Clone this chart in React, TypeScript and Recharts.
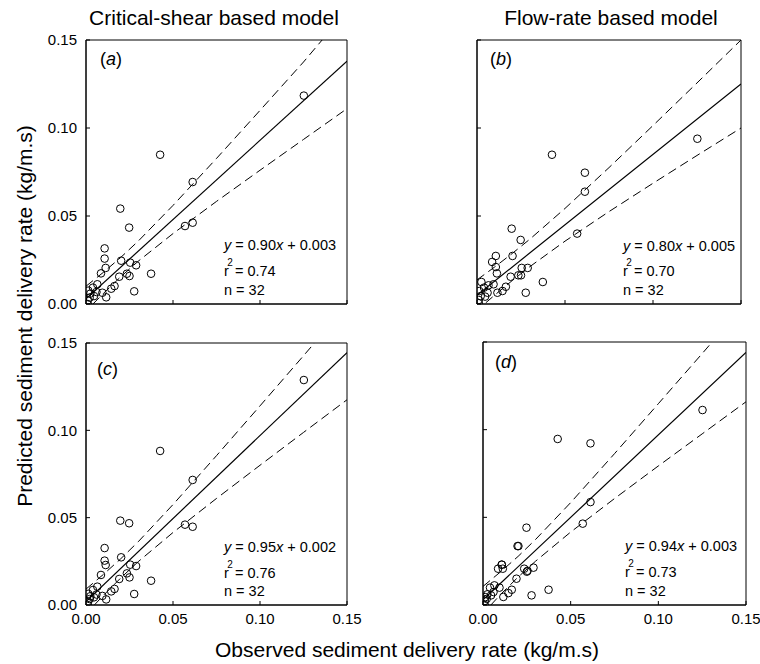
import React from 'react';
import { ScatterChart, Scatter, XAxis, YAxis, ReferenceArea } from 'recharts';

// Observed sediment delivery rate (kg/m.s), shared by all four panels
const observed = [
  0.0010, 0.0010, 0.0013, 0.0021, 0.0025, 0.0040, 0.0046, 0.0060,
  0.0065, 0.0086, 0.0094, 0.0107, 0.0107, 0.0113, 0.0116, 0.0145,
  0.0164, 0.0191, 0.0197, 0.0202, 0.0235, 0.0248, 0.0250, 0.0254,
  0.0277, 0.0288, 0.0374, 0.0426, 0.0569, 0.0613, 0.0613, 0.1252,
];
// Predicted rates, one list per panel
const predictedA = [
  0.0000, 0.0021, 0.0076, 0.0036, 0.0059, 0.0093, 0.0045, 0.0068,
  0.0112, 0.0174, 0.0064, 0.0316, 0.0258, 0.0205, 0.0038, 0.0087,
  0.0102, 0.0155, 0.0542, 0.0246, 0.0172, 0.0434, 0.0159, 0.0235,
  0.0072, 0.0220, 0.0172, 0.0848, 0.0443, 0.0462, 0.0693, 0.1184,
];
const predictedB = [
  0.0004, 0.0023, 0.0074, 0.0045, 0.0125, 0.0093, 0.0042, 0.0064,
  0.0106, 0.0239, 0.0112, 0.0273, 0.0210, 0.0174, 0.0064, 0.0074,
  0.0098, 0.0155, 0.0428, 0.0273, 0.0163, 0.0364, 0.0163, 0.0205,
  0.0064, 0.0205, 0.0125, 0.0848, 0.0400, 0.0638, 0.0746, 0.0939,
];
const predictedC = [
  0.0000, 0.0015, 0.0064, 0.0034, 0.0050, 0.0086, 0.0044, 0.0060,
  0.0105, 0.0172, 0.0052, 0.0326, 0.0254, 0.0229, 0.0032, 0.0078,
  0.0092, 0.0149, 0.0483, 0.0273, 0.0181, 0.0468, 0.0158, 0.0231,
  0.0063, 0.0223, 0.0139, 0.0882, 0.0460, 0.0448, 0.0716, 0.1288,
];
const predictedD = [
  0.0000, 0.0023, 0.0045, 0.0035, 0.0061, 0.0099, 0.0055, 0.0074,
  0.0112, 0.0207, 0.0099, 0.0230, 0.0230, 0.0207, 0.0046, 0.0068,
  0.0087, 0.0150, 0.0336, 0.0336, 0.0207, 0.0441, 0.0190, 0.0195,
  0.0055, 0.0213, 0.0087, 0.0947, 0.0464, 0.0587, 0.0922, 0.1112,
];

// Regression statistics printed in each panel
const slopes = [0.9, 0.8, 0.95, 0.94];
const intercepts = [0.003, 0.005, 0.002, 0.003];
const slopeLabels = ['0.90', '0.80', '0.95', '0.94'];
const interceptLabels = ['0.003', '0.005', '0.002', '0.003'];
const r2Labels = ['0.74', '0.70', '0.76', '0.73'];
const nLabels = ['32', '32', '32', '32'];
const panelLetters = ['a', 'b', 'c', 'd'];

// Dashed confidence curves as [observed, predicted]
const upperA = [[0, 0.0101], [0.01, 0.018], [0.02, 0.0265], [0.03, 0.0357], [0.05, 0.056], [0.075, 0.0827], [0.1, 0.11], [0.125, 0.1375], [0.1357, 0.15]];
const lowerA = [[0.004, 0.0], [0.01, 0.006], [0.02, 0.0155], [0.03, 0.0243], [0.05, 0.04], [0.075, 0.0583], [0.1, 0.076], [0.125, 0.0935], [0.15, 0.111]];
const upperB = [[0, 0.0137], [0.01, 0.021], [0.02, 0.0287], [0.03, 0.0368], [0.05, 0.0543], [0.075, 0.0775], [0.1, 0.1014], [0.125, 0.1256], [0.15, 0.15]];
const lowerB = [[0.005, 0.0007], [0.01, 0.005], [0.02, 0.0133], [0.03, 0.0212], [0.05, 0.0357], [0.075, 0.0525], [0.1, 0.0686], [0.125, 0.0844], [0.15, 0.1]];
const upperC = [[0, 0.0091], [0.01, 0.0175], [0.02, 0.0265], [0.03, 0.0362], [0.05, 0.0575], [0.075, 0.0855], [0.1, 0.114], [0.125, 0.1427], [0.1313, 0.15]];
const lowerC = [[0.0048, 0.0], [0.01, 0.0055], [0.02, 0.0155], [0.03, 0.0248], [0.05, 0.0415], [0.075, 0.061], [0.1, 0.08], [0.125, 0.0988], [0.15, 0.1175]];
const upperD = [[0, 0.0106], [0.01, 0.0189], [0.02, 0.0277], [0.03, 0.0374], [0.05, 0.0584], [0.075, 0.0863], [0.1, 0.1148], [0.125, 0.1434], [0.1307, 0.15]];
const lowerD = [[0.0045, 0.0], [0.01, 0.006], [0.02, 0.0159], [0.03, 0.025], [0.05, 0.0416], [0.075, 0.0607], [0.1, 0.0793], [0.125, 0.0976], [0.15, 0.1159]];

const axisTicks = [0, 0.05, 0.1, 0.15];
const axisDomain = [0, 0.15];

const titles = ['Critical-shear based model', 'Flow-rate based model'];
const xLabel = 'Observed sediment delivery rate (kg/m.s)';
const yLabel = 'Predicted sediment delivery rate (kg/m.s)';

const FONT = "'Liberation Sans', Arial, Helvetica, sans-serif";

// layout (plot area in page pixels)
const layout = [
  { left: 86, top: 40, w: 261, h: 264, showX: false, showY: true, letterDx: 14, letterBase: 24.5, eqDx: 138, eqBases: [54, 28.5, 9] },
  { left: 477, top: 40, w: 264, h: 264, showX: false, showY: false, letterDx: 13, letterBase: 24.5, eqDx: 146, eqBases: [53, 28.5, 9] },
  { left: 86, top: 343, w: 261, h: 262, showX: true, showY: true, letterDx: 11, letterBase: 32, eqDx: 138, eqBases: [53, 27.5, 9] },
  { left: 483, top: 342, w: 263, h: 263, showX: true, showY: false, letterDx: 12, letterBase: 26, eqDx: 142, eqBases: [54, 28.5, 9.5] },
];

const predictedSets = [predictedA, predictedB, predictedC, predictedD];
const upperSets = [upperA, upperB, upperC, upperD];
const lowerSets = [lowerA, lowerB, lowerC, lowerD];

const M_LEFT = 60;
const M_TOP = 10;
const M_RIGHT = 24;
const M_BOTTOM = 30;

const EmptyShape = () => <g />;
const CircleShape = (props: any) => (
  <circle cx={props.cx} cy={props.cy} r={3.8} fill="none" stroke="#000" strokeWidth={1} />
);

const makeYTick = (showLabel: boolean) => (props: any) => {
  const { x, y, payload } = props;
  return (
    <g>
      <line x1={x} x2={x + 4} y1={y} y2={y} stroke="#000" strokeWidth={1} />
      {showLabel && (
        <text x={x - 9} y={y} dy="0.35em" textAnchor="end" fontSize={15} fontFamily={FONT} fill="#000">
          {Number(payload.value).toFixed(2)}
        </text>
      )}
    </g>
  );
};

const makeXTick = (showLabel: boolean) => (props: any) => {
  const { x, y, payload } = props;
  return (
    <g>
      <line x1={x} x2={x} y1={y} y2={y - 4} stroke="#000" strokeWidth={1} />
      {showLabel && (
        <text x={x} y={y + 19} textAnchor="middle" fontSize={15} fontFamily={FONT} fill="#000">
          {Number(payload.value).toFixed(2)}
        </text>
      )}
    </g>
  );
};

function Panel({ index }: { index: number }) {
  const L = layout[index];
  const points = observed.map((x, i) => ({ x, y: predictedSets[index][i] }));
  const fitLine = axisDomain.map((x) => ({ x, y: slopes[index] * x + intercepts[index] }));
  const upper = upperSets[index].map(([x, y]) => ({ x, y }));
  const lower = lowerSets[index].map(([x, y]) => ({ x, y }));
  return (
    <div style={{ position: 'absolute', left: L.left - M_LEFT, top: L.top - M_TOP }}>
      <ScatterChart
        width={M_LEFT + L.w + M_RIGHT}
        height={M_TOP + L.h + M_BOTTOM}
        margin={{ top: M_TOP, right: M_RIGHT, bottom: 0, left: 0 }}
      >
        <XAxis
          type="number"
          dataKey="x"
          domain={axisDomain}
          ticks={axisTicks}
          interval={0}
          allowDataOverflow
          height={M_BOTTOM}
          tickLine={false}
          tickSize={0}
          tickMargin={0}
          axisLine={{ stroke: '#000', strokeWidth: 1 }}
          tick={makeXTick(L.showX)}
        />
        <YAxis
          type="number"
          dataKey="y"
          domain={axisDomain}
          ticks={axisTicks}
          interval={0}
          allowDataOverflow
          width={M_LEFT}
          tickLine={false}
          tickSize={0}
          tickMargin={0}
          axisLine={{ stroke: '#000', strokeWidth: 1 }}
          tick={makeYTick(L.showY)}
        />
        <ReferenceArea
          x1={axisDomain[0]}
          x2={axisDomain[1]}
          y1={axisDomain[0]}
          y2={axisDomain[1]}
          fill="none"
          fillOpacity={0}
          stroke="#000"
          strokeWidth={1}
          ifOverflow="visible"
        />
        <Scatter
          data={upper}
          line={{ stroke: '#000', strokeWidth: 1, strokeDasharray: '9 5' }}
          shape={<EmptyShape />}
          isAnimationActive={false}
        />
        <Scatter
          data={lower}
          line={{ stroke: '#000', strokeWidth: 1, strokeDasharray: '9 5' }}
          shape={<EmptyShape />}
          isAnimationActive={false}
        />
        <Scatter
          data={fitLine}
          line={{ stroke: '#000', strokeWidth: 1.2 }}
          shape={<EmptyShape />}
          isAnimationActive={false}
        />
        <Scatter data={points} shape={<CircleShape />} isAnimationActive={false} />
      </ScatterChart>
    </div>
  );
}

function PanelTexts({ index }: { index: number }) {
  const L = layout[index];
  const bottom = L.top + L.h;
  const ex = L.left + L.eqDx;
  return (
    <g fontFamily={FONT} fill="#000">
      <text x={L.left + L.letterDx} y={L.top + L.letterBase} fontSize={18}>
        (<tspan fontStyle="italic">{panelLetters[index]}</tspan>)
      </text>
      <text x={ex} y={bottom - L.eqBases[0]} fontSize={14.5}>
        <tspan fontStyle="italic">y</tspan>
        {`  = ${slopeLabels[index]}`}
        <tspan fontStyle="italic">x</tspan>
        {` + ${interceptLabels[index]}`}
      </text>
      <text x={ex} y={bottom - L.eqBases[1]} fontSize={14.5}>
        r
        <tspan dx={-1.5} dy={-9.5} fontSize={10}>2</tspan>
        <tspan dx={2} dy={9.5}>{`= ${r2Labels[index]}`}</tspan>
      </text>
      <text x={ex} y={bottom - L.eqBases[2]} fontSize={14.5}>
        {`n  = ${nLabels[index]}`}
      </text>
    </g>
  );
}

export default function App() {
  return (
    <div
      style={{
        position: 'absolute',
        left: 0,
        top: 0,
        width: 760,
        height: 664,
        background: '#fff',
        fontFamily: FONT,
      }}
    >
      {[0, 1, 2, 3].map((i) => (
        <Panel key={i} index={i} />
      ))}
      <svg
        width={760}
        height={664}
        style={{ position: 'absolute', left: 0, top: 0, pointerEvents: 'none' }}
      >
        <g fontFamily={FONT} fill="#000">
          <text x={214} y={25} fontSize={21} textAnchor="middle">
            {titles[0]}
          </text>
          <text x={611} y={25} fontSize={21} textAnchor="middle">
            {titles[1]}
          </text>
          <text x={407} y={657} fontSize={21} textAnchor="middle">
            {xLabel}
          </text>
          <text x={32} y={316} fontSize={21} textAnchor="middle" transform="rotate(-90 32 316)">
            {yLabel}
          </text>
        </g>
        {[0, 1, 2, 3].map((i) => (
          <PanelTexts key={i} index={i} />
        ))}
      </svg>
    </div>
  );
}
